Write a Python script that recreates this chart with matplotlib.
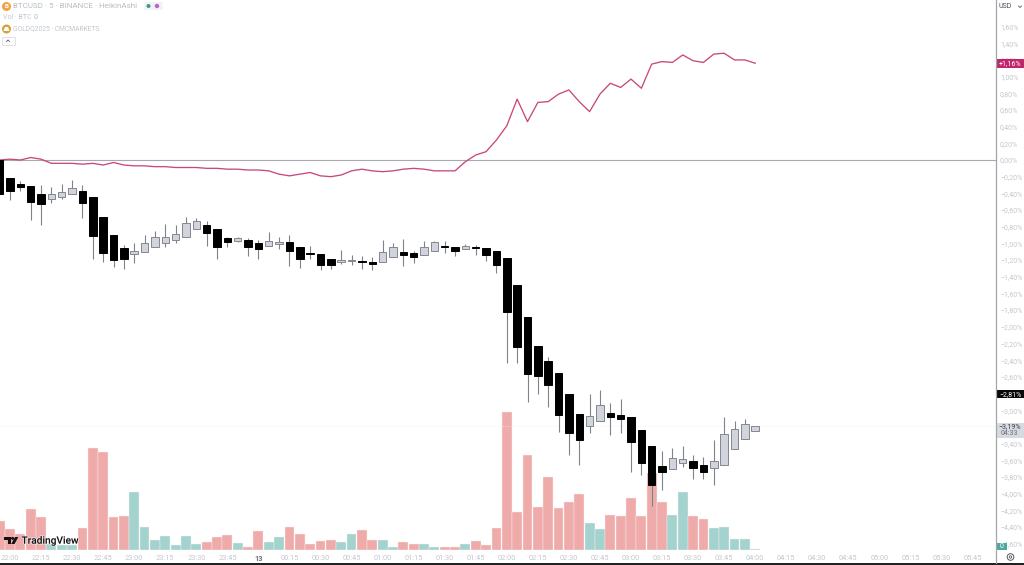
"""BTCUSD vs gold, percent scale, redrawn as a TradingView-style chart."""

import matplotlib

matplotlib.use("Agg")
import matplotlib.patheffects as pe
import matplotlib.pyplot as plt
from matplotlib.patches import Circle, FancyBboxPatch, Polygon, Rectangle

plt.rcParams["font.family"] = ["Roboto", "DejaVu Sans"]

# one bar every 5 minutes, first bar sits one slot before the 22:00 label
opens = [0.00, -0.22, -0.29, -0.31, -0.41, -0.47, -0.44, -0.41, -0.37, -0.44,
         -0.68, -0.90, -1.06, -1.13, -1.10, -1.04, -1.00, -0.96, -0.92, -0.83,
         -0.78, -0.83, -0.94, -0.97, -0.96, -1.00, -1.03, -1.01, -0.98, -1.04,
         -1.12, -1.13, -1.19, -1.22, -1.21, -1.21, -1.22, -1.22, -1.16, -1.10,
         -1.12, -1.14, -1.09, -1.03, -1.04, -1.07, -1.04, -1.06, -1.09, -1.18,
         -1.50, -1.88, -2.23, -2.41, -2.55, -2.81, -3.05, -3.19, -3.13, -3.03,
         -3.06, -3.08, -3.24, -3.43, -3.67, -3.71, -3.63, -3.61, -3.66, -3.69,
         -3.66, -3.47, -3.35, -3.25]
highs = [0.00, -0.22, -0.25, -0.31, -0.30, -0.32, -0.29, -0.24, -0.30, -0.44,
         -0.68, -0.90, -1.02, -1.00, -0.90, -0.85, -0.77, -0.78, -0.68, -0.70,
         -0.73, -0.83, -0.92, -0.92, -0.94, -0.96, -0.86, -0.92, -0.90, -1.04,
         -1.03, -1.13, -1.19, -1.08, -1.14, -1.15, -1.16, -0.96, -1.00, -0.95,
         -1.09, -0.97, -0.97, -0.97, -1.04, -1.01, -1.02, -1.06, -1.09, -1.18,
         -1.50, -1.88, -2.23, -2.36, -2.55, -2.81, -3.05, -2.81, -2.76, -2.91,
         -2.87, -3.08, -3.24, -3.43, -3.49, -3.45, -3.43, -3.54, -3.56, -3.36,
         -3.08, -3.13, -3.11, -3.19]
lows = [-0.41, -0.48, -0.37, -0.72, -0.78, -0.52, -0.47, -0.41, -0.70, -1.19,
        -1.22, -1.28, -1.31, -1.23, -1.10, -1.04, -1.04, -1.00, -0.92, -0.83,
        -1.03, -1.19, -1.04, -0.98, -1.15, -1.19, -1.03, -1.07, -1.27, -1.29,
        -1.19, -1.32, -1.31, -1.25, -1.26, -1.31, -1.32, -1.22, -1.16, -1.27,
        -1.23, -1.14, -1.09, -1.12, -1.15, -1.07, -1.14, -1.21, -1.35, -2.43,
        -2.43, -2.90, -2.81, -2.96, -3.26, -3.54, -3.66, -3.27, -3.13, -3.30,
        -3.27, -3.74, -3.78, -4.15, -3.96, -3.71, -3.68, -3.82, -3.82, -3.90,
        -3.66, -3.47, -3.35, -3.25]
closes = [-0.41, -0.37, -0.32, -0.50, -0.53, -0.41, -0.38, -0.34, -0.52, -0.91,
          -1.12, -1.20, -1.19, -1.09, -1.00, -0.92, -0.92, -0.89, -0.76, -0.73,
          -0.88, -1.04, -0.98, -0.94, -1.04, -1.07, -0.97, -0.98, -1.09, -1.19,
          -1.13, -1.26, -1.26, -1.20, -1.20, -1.22, -1.25, -1.10, -1.04, -1.14,
          -1.16, -1.04, -0.98, -1.04, -1.09, -1.03, -1.06, -1.14, -1.26, -1.82,
          -2.24, -2.57, -2.59, -2.70, -3.06, -3.27, -3.36, -3.07, -2.94, -3.08,
          -3.11, -3.38, -3.63, -3.90, -3.74, -3.57, -3.59, -3.69, -3.74, -3.61,
          -3.29, -3.23, -3.17, -3.19]

gold = [0.00, 0.01, 0.00, 0.03, 0.01, -0.04, -0.04, -0.04, -0.05, -0.04,
        -0.06, -0.03, -0.06, -0.07, -0.07, -0.08, -0.08, -0.09, -0.09, -0.09,
        -0.10, -0.10, -0.11, -0.11, -0.12, -0.12, -0.13, -0.17, -0.19, -0.17,
        -0.15, -0.19, -0.20, -0.18, -0.13, -0.11, -0.13, -0.14, -0.13, -0.11,
        -0.10, -0.11, -0.13, -0.13, -0.13, -0.02, 0.06, 0.10, 0.24, 0.41,
        0.73, 0.46, 0.69, 0.70, 0.79, 0.84, 0.70, 0.58, 0.79, 0.92,
        0.87, 0.97, 0.86, 1.15, 1.18, 1.17, 1.26, 1.19, 1.17, 1.27,
        1.28, 1.20, 1.20, 1.16]

volume = [29, 21, 16, 41, 33, 6, 5, 5, 22, 102, 98, 33, 34, 58, 23, 10, 14, 5,
          14, 6, 8, 13, 15, 7, 3, 19, 8, 13, 23, 16, 6, 9, 10, 8, 16, 20, 10,
          10, 3, 8, 6, 6, 3, 3, 3, 6, 9, 5, 22, 138, 38, 95, 43, 73, 42, 48, 56,
          27, 21, 35, 34, 52, 34, 77, 48, 35, 58, 34, 31, 22, 23, 11, 11, 1]

time_labels = ["22:00", "22:15", "22:30", "22:45", "23:00", "23:15", "23:30",
               "23:45", "13", "00:15", "00:30", "00:45", "01:00", "01:15",
               "01:30", "01:45", "02:00", "02:15", "02:30", "02:45", "03:00",
               "03:15", "03:30", "03:45", "04:00", "04:15", "04:30", "04:45",
               "05:00", "05:15", "05:30", "05:45"]
pct_ticks = [1.6, 1.4, 1.2, 1.0, 0.8, 0.6, 0.4, 0.2, 0.0, -0.2, -0.4, -0.6,
             -0.8, -1.0, -1.2, -1.4, -1.6, -1.8, -2.0, -2.2, -2.4, -2.6, -2.8,
             -3.0, -3.2, -3.4, -3.6, -3.8, -4.0, -4.2, -4.4, -4.6]

UP = "#d1d4dc"
UP_EDGE = "#83868f"
WICK = "#7f828b"
VOL_DOWN = "#eeabaa"
VOL_UP = "#a3d3ce"
MUTED = "#c4c7ce"
W, H = 1024, 565


def pct_text(value):
    sign = "\u2212" if value < -0.001 else ""
    return f"{sign}{abs(value):.2f}%".replace(".", ",")


def tag(ax, value, height, label, face, color):
    trans = ax.get_yaxis_transform()
    ax.add_patch(Rectangle((1.001, value - height / 2), 0.0275, height, transform=trans,
                           facecolor=face, edgecolor="none", clip_on=False, zorder=6))
    ax.text(1.0145, value, label, transform=trans, color=color, fontsize=5.0,
            ha="center", va="center", clip_on=False, zorder=7)


fig = plt.figure(figsize=(W / 100, H / 100), dpi=100, facecolor="white")
rect = [0, 15 / H, 996 / W, 550 / H]

ax_vol = fig.add_axes(rect, zorder=1)
ax_vol.set_xlim(-10 / 10.35, 986 / 10.35)
ax_vol.set_ylim(0, 550)
ax_vol.axis("off")

ax = fig.add_axes(rect, zorder=2)
ax.patch.set_alpha(0)
ax.set_xlim(-10 / 10.35, 986 / 10.35)
ax.set_ylim((160 - 550) / 83.4, 160 / 83.4)

bars = list(range(-1, len(opens) - 1))
vol_colors = [VOL_UP if c >= o else VOL_DOWN for o, c in zip(opens, closes)]
ax_vol.bar(bars, volume, width=0.95, color=vol_colors, edgecolor="#fbeeee", linewidth=0.3)

ax.axhline(0, color="#a8a8b4", linewidth=0.8, zorder=1)
ax.axhline(closes[-1], color="#ececec", linewidth=0.6, linestyle=(0, (1, 2)), zorder=1)
ax.plot(bars, gold, color="#c9487a", linewidth=0.95, zorder=2)

for i, o, h, l, c in zip(bars, opens, highs, lows, closes):
    rising = c >= o
    ax.vlines(i, l, h, color=WICK, linewidth=0.8, zorder=3)
    ax.bar(i, abs(c - o), bottom=min(o, c), width=0.72, zorder=4,
           color=UP if rising else "black",
           edgecolor=UP_EDGE if rising else "black", linewidth=0.7)

for side in ["top", "left", "bottom", "right"]:
    ax.spines[side].set_visible(False)

ax.yaxis.tick_right()
ax.set_yticks(pct_ticks)
ax.set_yticklabels([pct_text(v) for v in pct_ticks], fontsize=5.0, color=MUTED)
ax.tick_params(axis="y", length=0, pad=2.9)
ax.set_xticks(list(range(0, 3 * len(time_labels), 3)))
ax.set_xticklabels(time_labels, fontsize=5.3, color=MUTED)
ax.tick_params(axis="x", length=0, pad=3.5)
for label in ax.get_xticklabels():
    if label.get_text() == "13":
        label.set_color("#6d7079")
        label.set_fontweight("bold")

tag(ax, 1.16, 0.11, "+1,16%", "#c2266a", "white")
tag(ax, -2.81, 0.095, "\u22122,81%", "#0a0a0a", "white")

# everything around the chart is placed in screenshot pixels
ax_px = fig.add_axes([0, 0, 1, 1], zorder=5)
ax_px.set_xlim(0, W)
ax_px.set_ylim(H, 0)
ax_px.axis("off")

# current price box with countdown
ax_px.add_patch(Rectangle((997, 423), 26.5, 15, facecolor="#d8dae1", edgecolor="none"))
ax_px.text(1010, 427, pct_text(closes[-1]), fontsize=5.0, color="#3a3d45", ha="center", va="center")
ax_px.text(1009, 433.5, "04:33", fontsize=5.0, color="#6b6e78", ha="center", va="center")

# frame lines
ax_px.plot([996, 996], [0, 563], color="#a3a5ad", linewidth=0.9)
ax_px.add_patch(Rectangle((0, 563), W, 2, facecolor="#222222", edgecolor="none"))
ax_px.add_patch(Rectangle((996.5, 543), 10, 7, facecolor="#4ea89c", edgecolor="none"))
ax_px.text(1001.5, 546.5, "0", fontsize=5.0, color="white", ha="center", va="center")
ax_px.add_patch(Circle((1010.5, 557), 3.3, facecolor="none", edgecolor="#55585f", linewidth=0.7))
ax_px.add_patch(Circle((1010.5, 557), 1.2, facecolor="none", edgecolor="#55585f", linewidth=0.6))

# header legend
ax_px.text(13, 6.5, "BTCUSD \u00b7 5 \u00b7 BINANCE \u00b7 HeikinAshi", fontsize=5.8,
           color="#b9bcc4", va="center")
ax_px.text(3, 17.5, "Vol \u00b7 BTC", fontsize=5.0, color=MUTED, va="center")
ax_px.text(33.5, 17.5, "0", fontsize=5.0, color="#8accc2", va="center")
ax_px.text(13, 29, "GOLDQ2025 \u00b7 CMCMARKETS", fontsize=4.9, color=MUTED, va="center")

ax_px.add_patch(Circle((6.5, 6.5), 4.5, facecolor="#f2a343", edgecolor="none"))
ax_px.text(6.5, 6.5, "B", fontsize=4.5, fontweight="bold", color="white", ha="center", va="center")
ax_px.add_patch(Circle((6.5, 29), 4.5, facecolor="#d9a23c", edgecolor="none"))
ax_px.add_patch(Polygon([(3.5, 31), (9.5, 31), (8, 27), (5, 27)], closed=True, facecolor="white",
                        edgecolor="none"))

ax_px.add_patch(FancyBboxPatch((145, 2.5), 17, 7, boxstyle="round,pad=0.5", facecolor="#f1f2f4",
                               edgecolor="none"))
ax_px.add_patch(Circle((148.5, 6), 2, facecolor="#3e9a87", edgecolor="none"))
ax_px.add_patch(Circle((157, 6), 2.2, facecolor="#b765cf", edgecolor="none"))
ax_px.add_patch(Rectangle((2, 36.5), 12.5, 8.5, facecolor="white", edgecolor="#dcdde1", linewidth=0.6))
ax_px.plot([6.5, 8, 9.5], [41.5, 40, 41.5], color="#55585f", linewidth=0.6)

# currency button
ax_px.text(1005, 7, "USD", fontsize=5.0, color="#4a4d55", ha="center", va="center")
ax_px.plot([1018.5, 1020, 1021.5], [6, 7.5, 6], color="#55585f", linewidth=0.6)

# TradingView mark
logo = [[(4, 537), (10.5, 537), (10.5, 544), (7.5, 544), (7.5, 540), (4, 540)],
        [(15, 537), (18.3, 537), (14.5, 544), (11.3, 544)]]
for shape in logo:
    ax_px.add_patch(Polygon(shape, closed=True, facecolor="#111111", edgecolor="none"))
ax_px.add_patch(Circle((12.6, 538.4), 1.5, facecolor="#111111", edgecolor="none"))
ax_px.text(21.5, 540.7, "TradingView", fontsize=7.3, fontweight="medium", color="#111111", va="center",
           path_effects=[pe.withStroke(linewidth=1.2, foreground="white", alpha=0.6)])

fig.savefig("out.png", dpi=100)
